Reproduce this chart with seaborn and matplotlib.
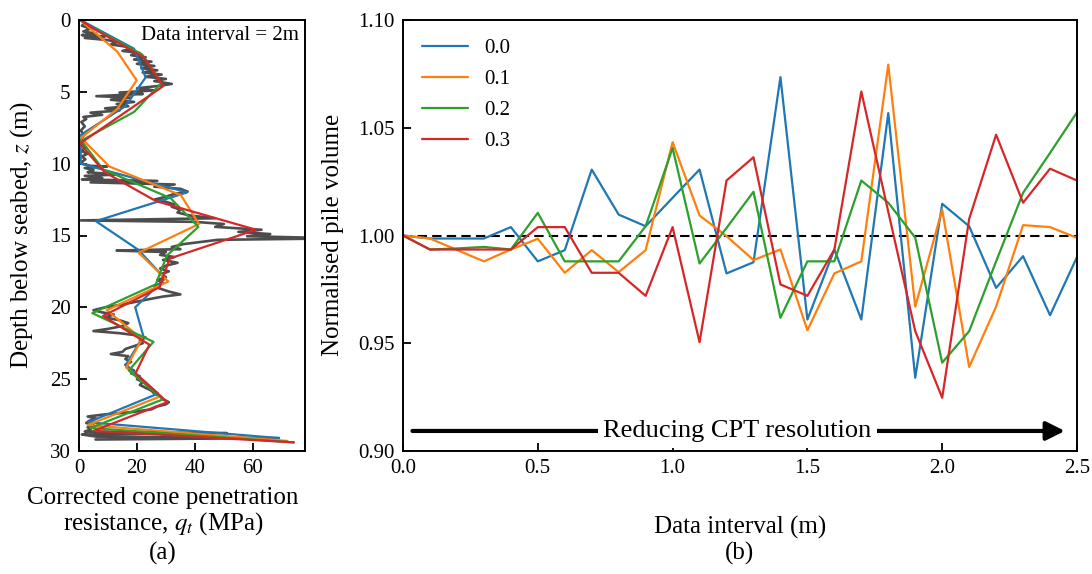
import numpy as np
import pandas as pd
import matplotlib
matplotlib.use("Agg")
import matplotlib.pyplot as plt
import seaborn as sns

# ---------------- data: panel (a) ----------------
gray_z = [0.0, 0.2, 0.4, 0.6, 0.8, 0.95, 1.05, 1.15, 1.25, 1.4, 1.55, 1.7, 1.85, 2.0, 2.15, 2.3,
          2.45, 2.6, 2.75, 2.9, 3.05, 3.2, 3.35, 3.5, 3.65, 3.8, 3.95, 4.1, 4.25, 4.45, 4.6, 4.75,
          4.9, 5.05, 5.15, 5.3, 5.4, 5.55, 5.7, 5.85, 6.0, 6.15, 6.3, 6.45, 6.6, 6.75, 6.9, 7.1,
          7.4, 7.7, 8.0, 8.3, 8.6, 8.9, 9.1, 9.3, 9.5, 9.7, 9.9, 10.0, 10.15, 10.2, 10.3, 10.45,
          10.6, 10.75, 10.85, 11.0, 11.1, 11.2, 11.3, 11.45, 11.6, 11.75, 11.95, 12.1, 12.3, 12.5,
          12.65, 12.85, 13.0, 13.2, 13.4, 13.6, 13.8, 13.95, 14.05, 14.2, 14.4, 14.6, 14.75, 14.9,
          15.05, 15.2, 15.3, 15.45, 15.6, 15.8, 15.95, 16.05, 16.15, 16.35, 16.5, 16.7, 16.9, 17.1,
          17.3, 17.5, 17.7, 17.9, 18.1, 18.3, 18.5, 18.7, 18.9, 19.1, 19.25, 19.4, 19.6, 19.8, 20.0,
          20.2, 20.35, 20.5, 20.7, 20.9, 21.1, 21.3, 21.5, 21.65, 21.8, 21.95, 22.1, 22.3, 22.5,
          22.7, 22.9, 23.1, 23.25, 23.4, 23.6, 23.8, 24.0, 24.2, 24.4, 24.6, 24.8, 25.0, 25.2, 25.4,
          25.6, 25.8, 26.0, 26.2, 26.4, 26.6, 26.75, 26.9, 27.1, 27.3, 27.45, 27.6, 27.75, 27.9,
          28.05, 28.2, 28.35, 28.5, 28.65, 28.75, 28.85, 29.0, 29.1, 29.2]
gray_q = [0.5, 2.0, 1.0, 4.0, 1.5, 6.0, 1.0, 9.0, 2.0, 10.0, 13.0, 11.0, 16.0, 18.0, 15.0, 21.0,
          18.0, 23.0, 19.0, 25.0, 20.0, 26.0, 21.5, 27.0, 22.0, 28.5, 23.0, 30.0, 26.0, 32.0, 27.0, 20.0,
          26.0, 14.0, 22.0, 6.0, 18.0, 11.0, 19.0, 13.0, 17.0, 9.0, 14.0, 4.0, 8.0, 1.5, 2.5, 0.8,
          2.0, 0.6, 1.8, 0.5, 1.2, 2.5, 0.6, 3.0, 1.0, 2.2, 0.8, 1.0, 4.0, 9.7, 2.0, 5.0,
          3.0, 14.0, 2.0, 8.0, 1.0, 27.0, 4.0, 33.0, 26.0, 35.0, 37.5, 33.0, 30.0, 26.0,
          30.0, 33.0, 32.0, 35.0, 34.0, 38.0, 47.0, 0.6, 40.0, 50.0, 47.0, 63.0, 55.0, 66.0,
          58.0, 90.0, 48.0, 42.0, 36.0, 32.0, 35.0, 13.0, 30.0, 28.0, 33.0, 29.0, 34.0, 30.0,
          28.0, 31.0, 28.0, 30.0, 27.0, 29.0, 26.0, 28.0, 31.0, 35.0, 29.0, 25.0, 20.0, 15.0, 9.0,
          5.0, 8.0, 12.0, 9.0, 14.0, 17.0, 15.0, 10.0, 5.0, 14.0, 20.0, 23.0, 21.0, 22.0,
          19.0, 16.0, 15.0, 11.0, 17.0, 16.0, 18.0, 16.0, 17.0, 19.0, 18.0, 21.0, 20.0, 22.0, 21.0,
          23.0, 25.0, 26.0, 28.0, 29.0, 31.0, 30.0, 27.0, 25.0, 18.0, 9.0, 3.0, 6.0, 3.5,
          2.5, 5.0, 3.0, 4.0, 2.0, 51.0, 1.0, 6.0, 69.0, 5.7]

z_00 = [0, 2, 4, 6, 8, 10, 12, 14, 16, 18, 20, 22, 24, 26, 28, 29.1]
q_00 = [0.5, 19.0, 23.0, 16.0, 0.6, 0.6, 37.3, 5.8, 20.5, 29.7, 19.4, 22.2, 16.2, 27.3, 3.2, 69.0]
z_01 = [0, 0.2, 2.2, 4.2, 6.2, 8.2, 10.2, 12.2, 14.2, 16.2, 18.2, 20.2, 22.2, 24.2, 26.2, 28.2, 29.3]
q_01 = [0.5, 1.5, 13.2, 19.9, 13.2, 0.7, 10.5, 35.2, 41.4, 20.6, 30.8, 9.6, 21.7, 16.3, 28.0, 3.0, 71.9]
z_02 = [0, 0.4, 2.4, 4.4, 6.4, 8.4, 10.4, 12.4, 14.4, 16.4, 18.4, 20.4, 22.4, 24.4, 26.4, 28.4, 29.4]
q_02 = [0.5, 3.5, 21.8, 28.4, 19.0, 0.8, 8.3, 31.6, 41.2, 30.3, 26.5, 4.6, 25.7, 17.2, 29.0, 3.9, 74.2]
z_03 = [0, 0.6, 2.6, 4.6, 6.6, 8.6, 10.6, 12.6, 14.6, 16.6, 18.6, 20.6, 22.6, 24.6, 26.6, 28.6, 29.4]
q_03 = [0.5, 5.0, 22.4, 29.1, 14.7, 0.3, 8.9, 26.5, 61.1, 31.3, 27.8, 8.3, 24.3, 19.5, 30.5, 5.0, 74.1]

# ---------------- data: panel (b) ----------------
intervals = [0.0, 0.1, 0.2, 0.3, 0.4, 0.5, 0.6, 0.7, 0.8, 0.9, 1.0, 1.1, 1.2,
             1.3, 1.4, 1.5, 1.6, 1.7, 1.8, 1.9, 2.0, 2.1, 2.2, 2.3, 2.4, 2.5]
series_labels = ["0.0", "0.1", "0.2", "0.3"]
vol_00 = [1.000, 0.9986, 0.9986, 0.9986, 1.0039, 0.9880, 0.9932, 1.0306, 1.0097, 1.0043, 1.0175, 1.0306, 0.9824,
          0.9876, 1.0735, 0.9610, 0.9935, 0.9610, 1.0568, 0.9340, 1.0147, 1.0043, 0.9757, 0.9904, 0.9630, 0.9900]
vol_01 = [1.000, 0.9986, 0.9933, 0.9880, 0.9935, 0.9985, 0.9827, 0.9932, 0.9830, 0.9932, 1.0433, 1.0093, 0.9997,
          0.9886, 0.9935, 0.9560, 0.9824, 0.9880, 1.0793, 0.9670, 1.0120, 0.9390, 0.9670, 1.0048, 1.0039, 0.9989]
vol_02 = [1.000, 0.9935, 0.9940, 0.9947, 0.9935, 1.0105, 0.9880, 0.9880, 0.9880, 1.0043, 1.0406, 0.9870, 1.0035,
          1.0203, 0.9618, 0.9880, 0.9880, 1.0255, 1.0152, 0.9990, 0.9410, 0.9556, 0.9880, 1.0198, 1.0383, 1.0572]
vol_03 = [1.000, 0.9935, 0.9935, 0.9935, 0.9935, 1.0039, 1.0039, 0.9827, 0.9827, 0.9720, 1.0039, 0.9505, 1.0255,
          1.0363, 0.9773, 0.9720, 0.9935, 1.0668, 1.0110, 0.9556, 0.9247, 1.0077, 1.0468, 1.0152, 1.0310, 1.0255]

colors = ["#1f77b4", "#ff7f0e", "#2ca02c", "#d62728"]

# ---------------- style ----------------
sns.set_theme(style="ticks")
plt.rcParams["font.family"] = ["Liberation Serif", "DejaVu Serif"]
plt.rcParams["mathtext.fontset"] = "stix"
plt.rcParams["axes.edgecolor"] = "black"
plt.rcParams["xtick.color"] = "black"
plt.rcParams["ytick.color"] = "black"
plt.rcParams["text.color"] = "black"

W, H = 1092, 574
fig = plt.figure(figsize=(W / 100, H / 100), dpi=100)
ax1 = fig.add_axes([79 / W, 1 - 451 / H, (305 - 79) / W, (451 - 20) / H])
ax2 = fig.add_axes([403 / W, 1 - 451 / H, (1077 - 403) / W, (451 - 20) / H])

# ---------------- panel (a) ----------------
sns.lineplot(x=gray_q, y=gray_z, sort=False, estimator=None, color="#4d4d4d",
             lw=1.9, ax=ax1, legend=False)
for qq, zz, c in zip([q_00, q_01, q_02, q_03], [z_00, z_01, z_02, z_03], colors):
    sns.lineplot(x=qq, y=zz, sort=False, estimator=None, color=c, lw=1.6, ax=ax1, legend=False)
ax1.set_xlim(0, 78)
ax1.set_ylim(30, 0)
ax1.set_xticks([0, 20, 40, 60])
ax1.set_yticks([0, 5, 10, 15, 20, 25, 30])
ax1.text(0.975, 0.985, "Data interval = 2m", transform=ax1.transAxes, ha="right", va="top",
         fontsize=15)

# ---------------- panel (b) ----------------
df = pd.DataFrame({
    "interval": intervals * 4,
    "volume": vol_00 + vol_01 + vol_02 + vol_03,
    "series": sum([[s] * len(intervals) for s in series_labels], []),
})
sns.lineplot(data=df, x="interval", y="volume", hue="series", palette=colors,
             lw=1.6, ax=ax2, estimator=None)
ax2.axhline(1.0, color="black", ls="--", lw=1.5, dashes=(4.5, 2.5), zorder=1)
ax2.set_xlim(0, 2.5)
ax2.set_ylim(0.90, 1.10)
ax2.set_xticks([0.0, 0.5, 1.0, 1.5, 2.0, 2.5])
ax2.set_yticks([0.90, 0.95, 1.00, 1.05, 1.10])
ax2.xaxis.set_major_formatter(matplotlib.ticker.FormatStrFormatter("%.1f"))
ax2.yaxis.set_major_formatter(matplotlib.ticker.FormatStrFormatter("%.2f"))
leg = ax2.legend(loc="upper left", frameon=False, fontsize=15, handlelength=2.2,
                 labelspacing=0.55, borderaxespad=0.5, handletextpad=0.8)
ax2.set_xlabel("")
ax2.set_ylabel("")

ax2.annotate("", xy=(2.455, 0.9093), xytext=(0.035, 0.9093),
             arrowprops=dict(arrowstyle="-|>", lw=3, color="black", mutation_scale=28,
                             shrinkA=0, shrinkB=0))
ax2.text(1.24, 0.9093, "Reducing CPT resolution", ha="center", va="center", fontsize=19,
         bbox=dict(fc="white", ec="none", pad=4))

for ax in (ax1, ax2):
    ax.tick_params(direction="in", length=6, width=1.3, labelsize=15, pad=6)
    for sp in ax.spines.values():
        sp.set_linewidth(1.4)
        sp.set_color("black")
        sp.set_visible(True)

# ---------------- labels ----------------
fig.text(22 / W, 1 - 235 / H, "Depth below seabed, $z$ (m)", rotation=90, ha="center",
         va="center", fontsize=18)
fig.text(333 / W, 1 - 235 / H, "Normalised pile volume", rotation=90, ha="center",
         va="center", fontsize=18)
fig.text(163 / W, 1 - 498 / H, "Corrected cone penetration", ha="center", va="center", fontsize=18)
fig.text(163 / W, 1 - 524 / H, "resistance, $q_t$ (MPa)", ha="center", va="center", fontsize=18)
fig.text(163 / W, 1 - 553 / H, "(a)", ha="center", va="center", fontsize=18)
fig.text(740 / W, 1 - 527 / H, "Data interval (m)", ha="center", va="center", fontsize=18)
fig.text(740 / W, 1 - 553 / H, "(b)", ha="center", va="center", fontsize=18)

fig.savefig("out.png", dpi=100)
